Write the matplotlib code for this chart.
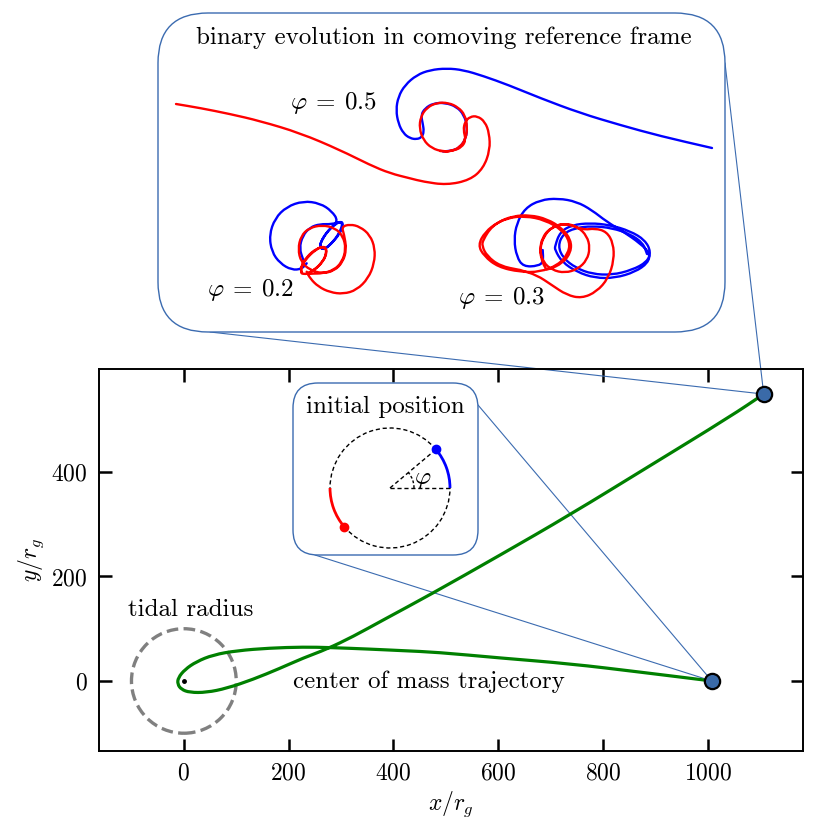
import numpy as np
import matplotlib
matplotlib.use('Agg')
import matplotlib.pyplot as plt
from matplotlib.patches import FancyBboxPatch, ConnectionPatch, Circle, Arc, PathPatch
from matplotlib.path import Path

plt.rcParams['font.family'] = 'serif'
plt.rcParams['font.serif'] = ['cmr10']
plt.rcParams['mathtext.fontset'] = 'cm'
plt.rcParams['axes.formatter.use_mathtext'] = True

# ---------------- data ----------------
# centre of mass trajectory (x/r_g, y/r_g)
com_x = [1008, 871, 737, 604, 483, 418, 355, 279, 228, 164, 101, 56, 24, 2, -11,
         -12, -5, 11, 43, 82, 132, 183, 228, 273, 323, 381, 470, 604, 737, 890, 1043, 1107]
com_y = [0, 17, 33, 44, 55, 58, 61, 64, 65, 63, 58, 50, 37, 22, 6,
         -6, -16, -22, -22, -14, 3, 24, 44, 61, 85, 117, 165, 241, 318, 412, 506, 549]
tidal_radius = 100
x_ticks = [0, 200, 400, 600, 800, 1000]
y_ticks = [0, 200, 400]

# binary members in the comoving frame (inset units)
phi05_blue = [(443, 151.5), (453, 150.5), (460, 147.3), (466, 138.3), (467.3, 126.7), (464, 115),
              (456.7, 106.7), (445, 102.7), (433.3, 103.3), (425, 108.3), (421, 115), (422.7, 123.3),
              (424, 131.7), (421.7, 137.3), (416.7, 139.3), (410, 138.3), (403.3, 133.3), (398.3, 123.3),
              (396, 110), (398.3, 96.7), (405, 85), (416.7, 75), (430, 70), (446.7, 68.3), (463.3, 70),
              (483.3, 76), (508.3, 85), (540, 98), (580, 113), (620, 125), (660, 136), (712, 148)]
phi05_red = [(176, 104), (200, 108), (230, 114), (260, 121), (300, 133), (340, 150), (370, 165),
             (390, 173.3), (410, 178.3), (423.3, 181.7), (446.7, 185), (470, 180), (483.3, 168.3),
             (490, 150), (489.3, 133.3), (485, 121.7), (477.3, 116), (470, 116.7), (465, 121.7),
             (463.3, 130), (466, 140), (461.7, 147.3), (453.3, 150.7), (443.3, 151.7), (431.7, 148.3),
             (423.3, 140), (419.3, 128.3), (420.7, 116.7), (426.7, 107.7), (436.7, 102.7),
             (448.3, 102.7), (458.3, 107.3), (465, 115), (467.3, 126.7), (466, 138.3), (460, 147.3),
             (450, 151.7), (440, 151)]

phi02_blue = [(303.3, 260), (299.3, 248.3), (302.7, 235.7), (310, 227.3), (320, 224), (331.7, 224.3),
              (340, 221.7), (342.7, 223.3), (340, 231.7), (333.3, 241.7), (325, 249), (320, 248.3),
              (320.7, 241.7), (326.7, 232.3), (335, 224.3), (341.7, 221), (343.3, 225.7), (339.3, 234.3),
              (331.7, 243.3), (324, 250), (319.3, 246.7), (322.7, 238.3), (330, 228.3), (338.3, 221),
              (331.7, 211), (320, 203.3), (303.3, 201), (286.7, 206.7), (275, 218.3), (269.3, 235),
              (271.7, 251.7), (280, 263.3), (291.7, 270), (301.7, 269), (306.7, 263.3)]
phi02_red = [(301.7, 273.3), (300.7, 266.7), (306.7, 256.7), (316.7, 248.3), (325, 246.7),
             (326.7, 253.3), (321.7, 263.3), (311.7, 271.7), (303.3, 275), (300, 270), (305, 260),
             (315, 250), (324, 245.7), (327.3, 251), (323.3, 261.7), (313.3, 271), (305, 274.3),
             (313, 273.5), (322, 273.5), (334, 270), (342, 262), (346, 249), (343, 236), (335, 228),
             (322, 225), (309, 228), (301, 236), (298, 249), (301, 262), (310, 270), (322, 273.5),
             (334, 271), (343, 262), (346.5, 249), (344, 234), (341.7, 226.7), (350, 224.3),
             (360, 226.7), (370, 235), (375, 248.3), (374.3, 263.3), (368.3, 278.3), (356.7, 290),
             (343.3, 294), (330, 292.3), (318.3, 286.7), (310, 278.3), (306.7, 271.7)]

phi03_blue = [(542.7, 250), (543.3, 261.7), (538.3, 266), (523.3, 266.7), (516.7, 256.7), (514, 240),
              (516.7, 223.3), (525, 208.3), (540, 200), (558.3, 198.3), (576.7, 201.7), (591.7, 210),
              (606.7, 221.7), (623.3, 231.7), (640, 243.3), (650, 253.3), (648, 263), (635, 272),
              (615, 278), (595, 278), (577, 272), (562, 262), (555, 250), (555, 246), (560, 232),
              (572, 225), (590, 223), (610, 225), (630, 231), (645, 240), (651, 252), (647, 262),
              (632, 270), (612, 275), (592, 274), (576, 268), (563, 258), (558, 246), (563, 234),
              (575, 228), (592, 226), (612, 228), (630, 234), (643, 243), (647, 254)]
phi03_red = [(520, 270), (500, 266), (487, 256), (482, 246), (483, 240), (492, 226), (507, 218),
             (525, 216), (545, 220), (562, 230), (570, 242), (568, 254), (558, 265), (540, 272),
             (520, 272), (498, 267), (484, 256), (478, 245), (485, 232), (498, 222), (513, 216),
             (530, 215), (547, 219), (562, 228), (571, 240), (571, 252), (563, 263), (548, 270),
             (545, 268), (541, 258), (540, 248), (544, 236), (552, 227), (565, 223), (578, 227),
             (587, 236), (590, 248), (587, 260), (578, 269), (565, 273), (552, 270), (543, 262),
             (540, 250), (542, 238), (550, 228), (565, 223), (583.3, 230), (595, 228.3),
             (606.7, 231.7), (613.3, 243.3), (614, 260), (608.3, 278.3), (596.7, 291.7),
             (581.7, 298.3), (566.7, 295), (551.7, 285), (536.7, 275), (520, 270)]

phi_labels = [r'$\varphi\:=\:0.5$', r'$\varphi\:=\:0.2$', r'$\varphi\:=\:0.3$']
phi_label_pos = [(333, 103), (250, 290), (502, 298)]

phi_init = 40.0  # initial phase angle shown in the small inset (degrees)


def smooth_patch(xs, ys, **kw):
    """Draw the sampled track as a quadratic-Bezier path through the samples."""
    pts = np.column_stack([xs, ys]).astype(float)
    mids = 0.5 * (pts[:-1] + pts[1:])
    verts = [pts[0], mids[0]]
    codes = [Path.MOVETO, Path.LINETO]
    for i in range(1, len(pts) - 1):
        verts += [pts[i], mids[i]]
        codes += [Path.CURVE3, Path.CURVE3]
    verts.append(pts[-1])
    codes.append(Path.LINETO)
    return PathPatch(Path(verts, codes), fill=False, capstyle='round', joinstyle='round', **kw)


# ---------------- figure ----------------
fig = plt.figure(figsize=(8.3, 8.3), dpi=100)
box_col = '#3b6bb0'

ax = fig.add_axes([99 / 830, 79 / 830, 704 / 830, 382 / 830])
ax.set_xlim(-162, 1182)
ax.set_ylim(-134, 597)
ax.add_patch(smooth_patch(com_x, com_y, ec='green', lw=2.3, zorder=4))
ax.plot([com_x[0]], [com_y[0]], 'o', ms=11, mfc='#3a6aa8', mec='black', mew=1.6, zorder=7)
ax.plot([com_x[-1]], [com_y[-1]], 'o', ms=11, mfc='#3a6aa8', mec='black', mew=1.6, zorder=7)
ax.plot([0], [0], 'o', ms=2.5, color='black', zorder=5)
ax.add_patch(Circle((0, 0), tidal_radius, fill=False, ec='gray', lw=2.4,
                    ls=(0, (3.5, 1.6)), zorder=3))
ax.text(13, 136, 'tidal radius', fontsize=18, ha='center', va='center')
ax.text(208, -2, 'center of mass trajectory', fontsize=18, ha='left', va='center')
ax.set_xticks(x_ticks)
ax.set_yticks(y_ticks)
ax.tick_params(direction='in', length=9, width=1.8, top=True, right=True, labelsize=17, pad=8)
for s in ax.spines.values():
    s.set_linewidth(1.4)
ax.set_xlabel(r'$x/r_g$', fontsize=17)
ax.set_ylabel(r'$y/r_g$', fontsize=17)

# ---- top inset ----
axt = fig.add_axes([158 / 830, 498 / 830, 567 / 830, 319 / 830])
axt.set_xlim(158, 725)
axt.set_ylim(332, 13)
axt.set_axis_off()
axt.add_patch(FancyBboxPatch((1.58, 4.98), 5.67, 3.19, boxstyle='round,pad=0,rounding_size=0.5',
                             transform=fig.dpi_scale_trans, fc='white', ec=box_col, lw=1.0,
                             clip_on=False, zorder=0))
for blue, red in [(phi05_blue, phi05_red), (phi02_blue, phi02_red), (phi03_blue, phi03_red)]:
    bx, by = zip(*blue)
    rx, ry = zip(*red)
    axt.add_patch(smooth_patch(bx, by, ec='blue', lw=1.7, zorder=2, clip_on=False))
    axt.add_patch(smooth_patch(rx, ry, ec='red', lw=1.7, zorder=3, clip_on=False))
for lab, (px, py) in zip(phi_labels, phi_label_pos):
    axt.text(px, py, lab, fontsize=18, ha='center', va='center')
axt.text(444, 38, 'binary evolution in comoving reference frame', fontsize=18,
         ha='center', va='center')

# ---- middle inset ----
axm = fig.add_axes([293 / 830, 275 / 830, 185 / 830, 172 / 830])
axm.set_xlim(-1.617, 1.467)
axm.set_ylim(-1.117, 1.75)
axm.set_axis_off()
axm.add_patch(FancyBboxPatch((2.93, 2.75), 1.85, 1.72, boxstyle='round,pad=0,rounding_size=0.25',
                             transform=fig.dpi_scale_trans, fc='white', ec=box_col, lw=1.0,
                             clip_on=False, zorder=0))
axm.add_patch(Arc((0, 0), 2, 2, theta1=phi_init, theta2=180, color='black', lw=1.0,
                  ls=(0, (3, 2)), zorder=2))
axm.add_patch(Arc((0, 0), 2, 2, theta1=180 + phi_init, theta2=360, color='black', lw=1.0,
                  ls=(0, (3, 2)), zorder=2))
axm.add_patch(Arc((0, 0), 2, 2, theta1=0, theta2=phi_init, color='blue', lw=2.0, zorder=3))
axm.add_patch(Arc((0, 0), 2, 2, theta1=180, theta2=180 + phi_init, color='red', lw=2.0, zorder=3))
ph = np.deg2rad(phi_init)
axm.plot([0, np.cos(ph)], [0, np.sin(ph)], color='black', lw=1.0, ls=(0, (3, 2)))
axm.plot([0, 1], [0, 0], color='black', lw=1.0, ls=(0, (3, 2)))
axm.add_patch(Arc((0, 0), 0.8, 0.8, theta1=0, theta2=phi_init, color='black', lw=1.0,
                  ls=(0, (2, 1.5))))
axm.plot([np.cos(ph)], [np.sin(ph)], 'o', color='blue', ms=6, zorder=4)
axm.plot([-np.cos(ph)], [-np.sin(ph)], 'o', color='red', ms=6, zorder=4)
axm.text(0.55, 0.13, r'$\varphi$', fontsize=18, ha='center', va='center')
axm.text(-0.07, 1.35, 'initial position', fontsize=18, ha='center', va='center')

# ---- connector lines ----
for axi, pa, idx in [(axt, (52 / 567, 0), -1), (axt, (1, 1 - 50 / 319), -1),
                     (axm, (1, 1 - 22 / 172), 0), (axm, (22 / 185, 0), 0)]:
    cp = ConnectionPatch(xyA=pa, coordsA=axi.transAxes, xyB=(com_x[idx], com_y[idx]),
                         coordsB=ax.transData, color=box_col, lw=0.8, zorder=2)
    ax.add_artist(cp)

fig.savefig('out.png', dpi=100)
